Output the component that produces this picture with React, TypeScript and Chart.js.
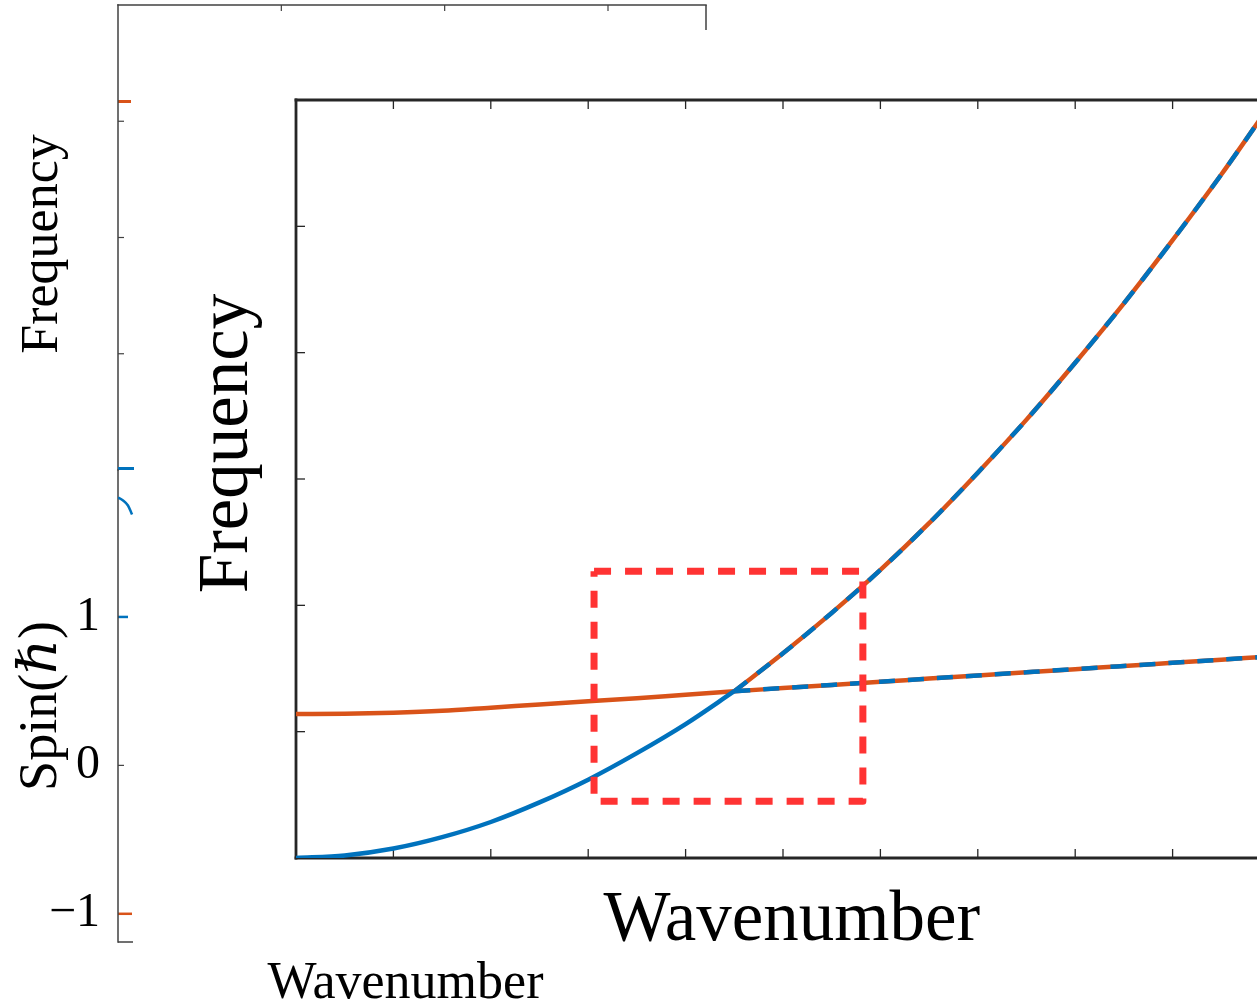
import React, { useEffect, useRef } from 'react';
import { Chart, registerables } from 'chart.js';

Chart.register(...registerables);

// ---------- data ----------
const wavenumber = [0, 0.5, 1, 1.5, 2, 2.5, 3, 3.5, 4, 4.5, 5, 5.5, 6, 6.5, 7, 7.5, 8, 8.5, 9, 9.5, 10];
const parabolicBranch = [0, 0.02, 0.075, 0.165, 0.285, 0.44, 0.62, 0.83, 1.06, 1.32, 1.62, 1.94, 2.28, 2.65, 3.05, 3.47, 3.92, 4.39, 4.89, 5.41, 5.96];
const flatBranch = [1.14, 1.142, 1.15, 1.165, 1.19, 1.215, 1.24, 1.265, 1.293, 1.32, 1.345, 1.37, 1.395, 1.42, 1.445, 1.47, 1.495, 1.52, 1.545, 1.57, 1.595];
const crossingIndex = 9;

const zoomBoxX = [3.06, 5.82, 5.82, 3.06, 3.06];
const zoomBoxY = [2.27, 2.27, 0.45, 0.45, 2.27];

const innerXRange = [0, 10];
const innerYRange = [0, 6];
const innerXTicks = [1, 2, 3, 4, 5, 6, 7, 8, 9];
const innerYTicks = [1, 2, 3, 4, 5];

const outerXRange = [0, 3.6];
const outerTopTicks = [1, 2, 3];
const freqRange = [0, 4];
const freqTicks = [1, 2, 3];
const freqOrangeMark = [3.17];

const spinRange = [-1.19, 1.99];
const spinTicks = [-1, 0, 1];
const spinBlueMarks = [1, 2];
const spinOrangeMarks = [-1];

const arcX = [0, 0.031, 0.061, 0.086];
const arcY = [1.805, 1.785, 1.751, 1.69];

// ---------- styles ----------
const BLUE = '#0072BD';
const ORANGE = '#D95319';
const RED = '#FF3333';
const AXIS = '#262626';
const OUTER_AXIS = '#404040';
const SERIF = "'Liberation Serif', 'DejaVu Serif', serif";

type TickSpec = { scale: string; side: 'left' | 'right' | 'top' | 'bottom'; value: number; len: number; color: string; width: number };
type MarksCfg = { fill?: string; borders: string[]; borderColor: string; borderWidth: number; ticks: TickSpec[] };

function makeMarks(cfg: MarksCfg) {
  return {
    id: 'axisMarks',
    beforeDraw(chart: any) {
      if (!cfg.fill) return;
      const { ctx, chartArea: a } = chart;
      ctx.save();
      ctx.fillStyle = cfg.fill;
      ctx.fillRect(a.left, a.top, a.right - a.left, a.bottom - a.top);
      ctx.restore();
    },
    beforeDatasetsDraw(chart: any) {
      const { ctx, chartArea: a } = chart;
      ctx.save();
      ctx.lineCap = 'butt';
      for (const t of cfg.ticks) {
        const p = chart.scales[t.scale].getPixelForValue(t.value);
        ctx.strokeStyle = t.color;
        ctx.lineWidth = t.width;
        ctx.beginPath();
        if (t.side === 'left') { ctx.moveTo(a.left, p); ctx.lineTo(a.left + t.len, p); }
        if (t.side === 'right') { ctx.moveTo(a.right, p); ctx.lineTo(a.right - t.len, p); }
        if (t.side === 'top') { ctx.moveTo(p, a.top); ctx.lineTo(p, a.top + t.len); }
        if (t.side === 'bottom') { ctx.moveTo(p, a.bottom); ctx.lineTo(p, a.bottom - t.len); }
        ctx.stroke();
      }
      ctx.strokeStyle = cfg.borderColor;
      ctx.lineWidth = cfg.borderWidth;
      ctx.lineCap = 'square';
      for (const s of cfg.borders) {
        ctx.beginPath();
        if (s === 'left') { ctx.moveTo(a.left, a.top); ctx.lineTo(a.left, a.bottom); }
        if (s === 'right') { ctx.moveTo(a.right, a.top); ctx.lineTo(a.right, a.bottom); }
        if (s === 'top') { ctx.moveTo(a.left, a.top); ctx.lineTo(a.right, a.top); }
        if (s === 'bottom') { ctx.moveTo(a.left, a.bottom); ctx.lineTo(a.right, a.bottom); }
        ctx.stroke();
      }
      ctx.restore();
    },
  };
}

const hidden = { grid: { display: false, drawTicks: false }, border: { display: false } };
const basePlugins = { legend: { display: false }, tooltip: { enabled: false }, title: { display: false } };
const pts = (xs: number[], ys: number[]) => xs.map((x, i) => ({ x, y: ys[i] }));

function configFreq(): any {
  const ticks: TickSpec[] = [
    ...outerTopTicks.map((v) => ({ scale: 'x', side: 'top' as const, value: v, len: 6, color: OUTER_AXIS, width: 1.2 })),
    { scale: 'x', side: 'top', value: outerXRange[1], len: 25, color: OUTER_AXIS, width: 1.5 },
    ...freqTicks.map((v) => ({ scale: 'y', side: 'left' as const, value: v, len: 6, color: OUTER_AXIS, width: 1.2 })),
    ...freqOrangeMark.map((v) => ({ scale: 'y', side: 'left' as const, value: v, len: 13, color: ORANGE, width: 3 })),
  ];
  return {
    type: 'line',
    data: { datasets: [] },
    options: {
      responsive: false, animation: false, devicePixelRatio: 1,
      layout: { padding: { left: 0, top: 0, right: 551, bottom: 538 } },
      plugins: basePlugins,
      scales: {
        x: { type: 'linear', position: 'top', min: outerXRange[0], max: outerXRange[1], ...hidden, ticks: { display: false }, afterFit: (s: any) => { s.height = 5; } },
        y: {
          type: 'linear', position: 'left', min: freqRange[0], max: freqRange[1], ...hidden, ticks: { display: false },
          title: { display: true, text: 'Frequency ', color: '#000', font: { family: SERIF, size: 52, lineHeight: 1.2 }, padding: { top: 12, bottom: 0 } },
          afterFit: (s: any) => { s.width = 118; },
        },
      },
    },
    plugins: [makeMarks({ borders: ['left', 'top'], borderColor: OUTER_AXIS, borderWidth: 1.5, ticks })],
  };
}

function configSpin(): any {
  const ticks: TickSpec[] = [
    { scale: 'y', side: 'left', value: 0, len: 6, color: OUTER_AXIS, width: 1.2 },
    ...spinBlueMarks.map((v, i) => ({ scale: 'y', side: 'left' as const, value: v, len: i === 0 ? 10 : 16, color: BLUE, width: i === 0 ? 2.5 : 3 })),
    ...spinOrangeMarks.map((v) => ({ scale: 'y', side: 'left' as const, value: v, len: 14, color: ORANGE, width: 2.5 })),
    { scale: 'y', side: 'left', value: spinRange[0], len: 15, color: OUTER_AXIS, width: 1.5 },
  ];
  return {
    type: 'line',
    data: {
      datasets: [
        { data: pts(arcX, arcY), borderColor: BLUE, borderWidth: 2.5, pointRadius: 0, cubicInterpolationMode: 'monotone', fill: false },
      ],
    },
    options: {
      responsive: false, animation: false, devicePixelRatio: 1,
      layout: { padding: { left: 0, top: 470, right: 551, bottom: 0 } },
      plugins: basePlugins,
      scales: {
        x: {
          type: 'linear', position: 'bottom', min: outerXRange[0], max: outerXRange[1], ...hidden, ticks: { display: false },
          title: { display: true, text: 'Wavenumber ', color: '#000', font: { family: SERIF, size: 52, lineHeight: 0.9 }, padding: { top: 0, bottom: 0 } },
          afterFit: (s: any) => { s.height = 66; },
        },
        y: {
          type: 'linear', position: 'left', min: spinRange[0], max: spinRange[1], ...hidden,
          afterBuildTicks: (s: any) => { s.ticks = spinTicks.map((v) => ({ value: v })); },
          ticks: {
            display: true, color: '#000', padding: 18, font: { family: SERIF, size: 48 },
            callback: (v: number) => (v < 0 ? '\u2212' + Math.abs(v) : String(v)),
          },
          title: { display: true, text: 'Spin(\u210F)', color: '#000', font: { family: SERIF, size: 54, lineHeight: 1.2 }, padding: { top: 9, bottom: 0 } },
          afterFit: (s: any) => { s.width = 118; },
        },
      },
    },
    plugins: [makeMarks({ borders: ['left'], borderColor: OUTER_AXIS, borderWidth: 1.5, ticks })],
  };
}

function configInner(): any {
  const parab = pts(wavenumber, parabolicBranch);
  const flat = pts(wavenumber, flatBranch);
  const line = (data: any[], color: string, dash: number[] = []) => ({
    data, borderColor: color, borderWidth: 4.5, borderDash: dash, pointRadius: 0, fill: false,
    cubicInterpolationMode: 'monotone', borderCapStyle: 'butt',
  });
  const ticks: TickSpec[] = [
    ...innerXTicks.map((v) => ({ scale: 'x', side: 'bottom' as const, value: v, len: 9, color: AXIS, width: 1.3 })),
    ...innerXTicks.map((v) => ({ scale: 'x', side: 'top' as const, value: v, len: 9, color: AXIS, width: 1.3 })),
    ...innerYTicks.map((v) => ({ scale: 'y', side: 'left' as const, value: v, len: 9, color: AXIS, width: 1.3 })),
    ...innerYTicks.map((v) => ({ scale: 'y', side: 'right' as const, value: v, len: 9, color: AXIS, width: 1.3 })),
  ];
  return {
    type: 'line',
    data: {
      datasets: [
        {
          data: pts(zoomBoxX, zoomBoxY), borderColor: RED, borderWidth: 7, borderDash: [17, 14], pointRadius: 0,
          fill: false, tension: 0, borderJoinStyle: 'round', borderCapStyle: 'butt',
        },
        line(parab.slice(crossingIndex), BLUE, [16, 13]),
        line(flat.slice(crossingIndex), BLUE, [16, 13]),
        line(parab.slice(0, crossingIndex + 1), BLUE),
        line(parab.slice(crossingIndex), ORANGE),
        line(flat, ORANGE),
      ],
    },
    options: {
      responsive: false, animation: false, devicePixelRatio: 1,
      layout: { padding: { left: 0, top: 100, right: 30, bottom: 0 } },
      plugins: basePlugins,
      scales: {
        x: {
          type: 'linear', position: 'bottom', min: innerXRange[0], max: innerXRange[1], ...hidden, ticks: { display: false },
          title: { display: true, text: ' Wavenumber', color: '#000', font: { family: SERIF, size: 71, lineHeight: 1.2 }, padding: { top: 0, bottom: 44 } },
          afterFit: (s: any) => { s.height = 150; },
        },
        y: {
          type: 'linear', position: 'left', min: innerYRange[0], max: innerYRange[1], ...hidden, ticks: { display: false },
          title: { display: true, text: '    Frequency', color: '#000', font: { family: SERIF, size: 71, lineHeight: 1.2 }, padding: { top: 186, bottom: 0 } },
          afterFit: (s: any) => { s.width = 296; },
        },
      },
    },
    plugins: [makeMarks({ fill: '#ffffff', borders: ['left', 'top', 'bottom', 'right'], borderColor: AXIS, borderWidth: 2.8, ticks })],
  };
}

export default function App() {
  const refA = useRef<HTMLCanvasElement>(null);
  const refB = useRef<HTMLCanvasElement>(null);
  const refC = useRef<HTMLCanvasElement>(null);

  useEffect(() => {
    const charts = [
      new Chart(refA.current as HTMLCanvasElement, configFreq()),
      new Chart(refB.current as HTMLCanvasElement, configSpin()),
      new Chart(refC.current as HTMLCanvasElement, configInner()),
    ];
    return () => charts.forEach((c) => c.destroy());
  }, []);

  const abs: React.CSSProperties = { position: 'absolute', left: 0, top: 0 };
  return (
    <div style={{ position: 'fixed', left: 0, top: 0, width: 1257, height: 1008, overflow: 'hidden', background: '#fff' }}>
      <canvas ref={refA} width={1257} height={1008} style={abs} />
      <canvas ref={refB} width={1257} height={1008} style={abs} />
      <canvas ref={refC} width={1300} height={1008} style={abs} />
    </div>
  );
}
